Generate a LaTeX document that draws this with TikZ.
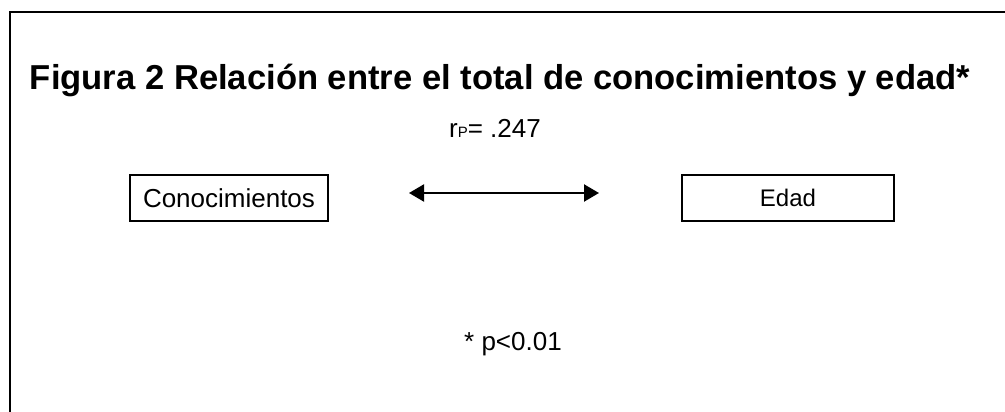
\documentclass[tikz,border=0pt]{standalone}
\usepackage{fontspec}
\setmainfont{Liberation Sans}
\usetikzlibrary{arrows.meta}
\begin{document}
\begin{tikzpicture}[x=1pt,y=-1pt,
  box/.style={draw,line width=1.6pt,inner sep=0pt,minimum height=46pt},
  txt/.style={inner sep=0pt,anchor=base},
  link/.style={line width=2.2pt,{Triangle[length=15pt,width=17pt]}-{Triangle[length=15pt,width=17pt]}}]
\useasboundingbox (0,0) rectangle (1005,412);
\draw[line width=2pt] (9.5,413) -- (9.5,12.5) -- (1006,12.5);
\node[txt,font=\fontsize{34.6}{38}\selectfont\bfseries] (title) at (500,89) {Figura 2 Relación entre el total de conocimientos y edad*};
\node[txt,font=\fontsize{26}{30}\selectfont] (r) at (495,137) {r{\fontsize{15}{18}\selectfont P}= .247};
\node[box,minimum width=198pt,font=\fontsize{26}{30}\selectfont] (con) at (229,198) {Conocimientos};
\node[box,minimum width=212pt,font=\fontsize{24}{28}\selectfont] (edad) at (788,198) {Edad};
\coordinate (a1) at (409,193);
\coordinate (a2) at (599,193);
\draw[link] (a1) -- (a2);
\node[txt,font=\fontsize{26}{30}\selectfont] (p) at (513,350) {* p<0.01};
\end{tikzpicture}
\end{document}
